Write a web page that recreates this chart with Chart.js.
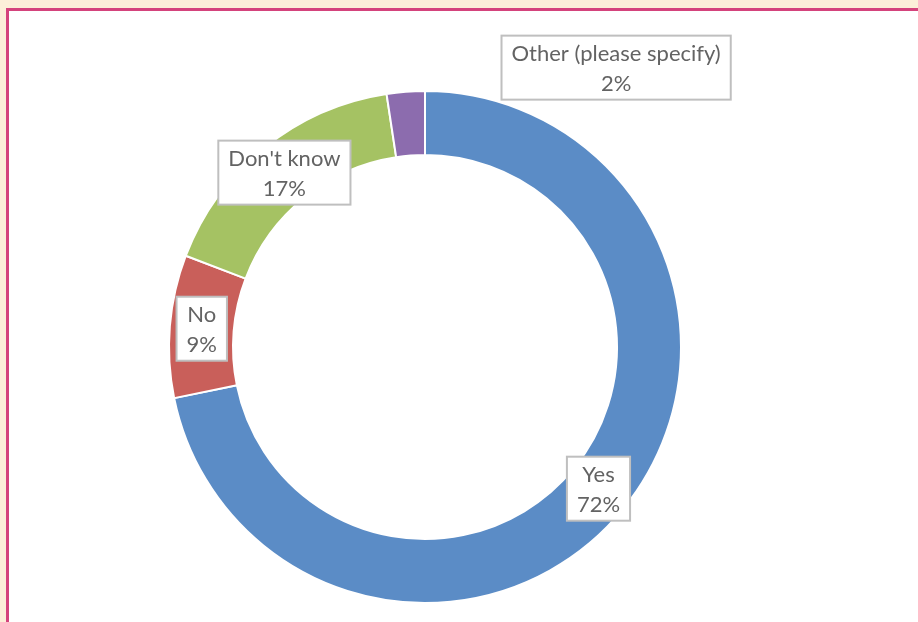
<!DOCTYPE html>
<html lang="en">
<head>
  <meta charset="UTF-8" />
  <title>Survey answers</title>
  <script src="https://cdn.jsdelivr.net/npm/chart.js"></script>
  <style>
    body {
      margin: 0;
      background: #fcefd9;
      width: 918px;
      height: 622px;
      overflow: hidden;
      position: relative;
    }
    .frame {
      position: absolute;
      left: 6px;
      top: 8px;
      right: 0;
      bottom: 0;
      background: #fff;
      border-left: 3px solid #d4437c;
      border-top: 3px solid #d4437c;
    }
    canvas {
      position: absolute;
      left: 0;
      top: 0;
    }
  </style>
</head>
<body>
  <div class="frame"></div>
  <canvas id="answersChart" width="918" height="622"></canvas>

  <script>
    const categories = ['Yes', 'No', "Don't know", 'Other (please specify)'];
    const shares = [71.8, 9.0, 16.8, 2.4];
    const colors = ['#5b8cc6', '#c95f5a', '#a5c263', '#8c6cae'];
    // the small slice label was dragged out of the ring in the original
    const labelShift = [[0, 0], [0, 0], [0, 0], [208, -56]];

    const boxLabels = {
      id: 'boxLabels',
      afterDatasetsDraw(chart) {
        const ctx = chart.ctx;
        const arcs = chart.getDatasetMeta(0).data;
        ctx.save();
        ctx.font = '22px Lato, "Open Sans", sans-serif';
        ctx.textAlign = 'center';
        ctx.textBaseline = 'middle';
        const lh = 30;
        arcs.forEach((arc, i) => {
          const p = arc.tooltipPosition();
          const x = p.x + labelShift[i][0];
          const y = p.y + labelShift[i][1];
          const lines = [categories[i], Math.round(shares[i]) + '%'];
          const w = Math.max(...lines.map(l => ctx.measureText(l).width)) + 20;
          const h = lh * 2 + 4;
          ctx.fillStyle = '#fff';
          ctx.fillRect(x - w / 2, y - h / 2, w, h);
          ctx.strokeStyle = '#bfbfbf';
          ctx.lineWidth = 2;
          ctx.strokeRect(x - w / 2, y - h / 2, w, h);
          ctx.fillStyle = '#636363';
          ctx.fillText(lines[0], x, y - lh / 2 + 1);
          ctx.fillText(lines[1], x, y + lh / 2 + 1);
        });
        ctx.restore();
      }
    };

    new Chart(document.getElementById('answersChart'), {
      type: 'doughnut',
      data: {
        labels: categories,
        datasets: [{
          data: shares,
          backgroundColor: colors,
          borderColor: '#fff',
          borderWidth: 2
        }]
      },
      options: {
        responsive: false,
        animation: false,
        cutout: '75%',
        layout: {
          padding: { left: 168, top: 90, right: 236, bottom: 18 }
        },
        plugins: {
          legend: { display: false },
          tooltip: { enabled: false }
        }
      },
      plugins: [boxLabels]
    });
  </script>
</body>
</html>
